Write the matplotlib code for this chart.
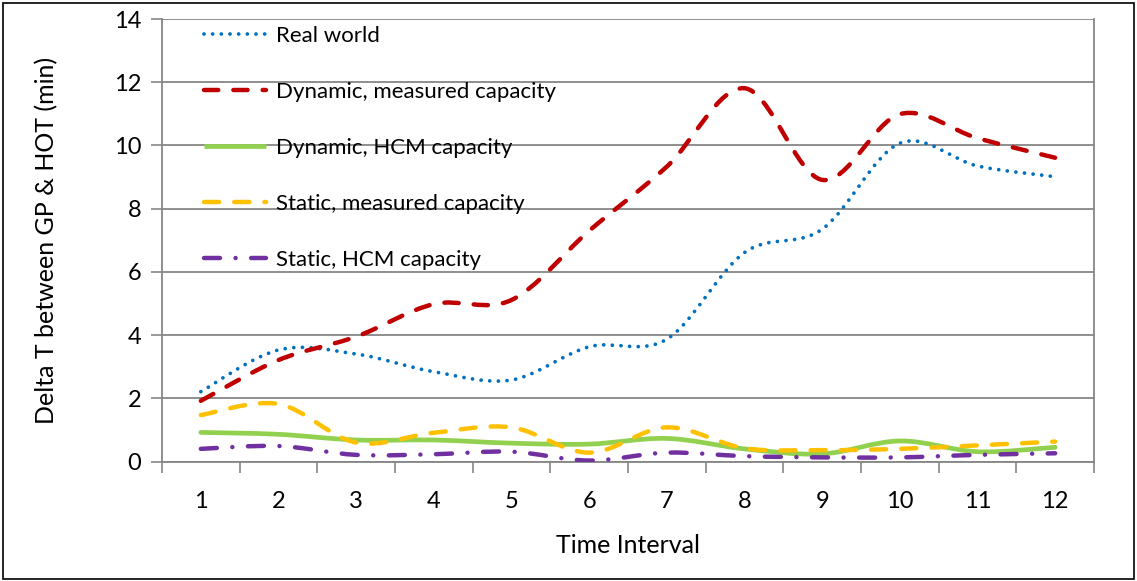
import matplotlib
matplotlib.use("Agg")
import matplotlib.pyplot as plt
from matplotlib.path import Path
from matplotlib.patches import PathPatch, Rectangle
from matplotlib.lines import Line2D
import numpy as np

intervals = [1, 2, 3, 4, 5, 6, 7, 8, 9, 10, 11, 12]
real_world = [2.21, 3.53, 3.40, 2.84, 2.58, 3.63, 3.87, 6.61, 7.35, 10.07, 9.35, 9.01]
dyn_measured = [1.92, 3.21, 3.95, 4.98, 5.11, 7.30, 9.33, 11.81, 8.91, 10.99, 10.23, 9.61]
dyn_hcm = [0.92, 0.86, 0.68, 0.68, 0.58, 0.55, 0.73, 0.40, 0.24, 0.65, 0.31, 0.45]
stat_measured = [1.47, 1.82, 0.60, 0.91, 1.08, 0.28, 1.08, 0.42, 0.36, 0.40, 0.51, 0.63]
stat_hcm = [0.40, 0.49, 0.21, 0.23, 0.31, 0.03, 0.28, 0.17, 0.13, 0.13, 0.21, 0.26]

labels = ["Real world", "Dynamic, measured capacity", "Dynamic, HCM capacity",
          "Static, measured capacity", "Static, HCM capacity"]
colors = ["#0070C0", "#C00000", "#92D050", "#FFC000", "#7030A0"]

FONT = ["Lato", "DejaVu Sans"]
plt.rcParams['font.family'] = FONT

fig = plt.figure(figsize=(11.37, 5.81), dpi=100)
ax = fig.add_axes([162/1137, 1 - 461.5/581, (1094-162)/1137, (461.5-19)/581])


def smooth_path(xs, ys):
    # Excel-style smoothed line: cubic Bezier segments through the data points
    pts = np.column_stack([xs, ys]).astype(float)
    n = len(pts)
    verts = [pts[0]]
    codes = [Path.MOVETO]
    for i in range(n - 1):
        p0 = pts[i - 1] if i > 0 else pts[i]
        p1 = pts[i]
        p2 = pts[i + 1]
        p3 = pts[i + 2] if i + 2 < n else pts[i + 1]
        c1 = p1 + (p2 - p0) / 6.0
        c2 = p2 - (p3 - p1) / 6.0
        verts += [c1, c2, p2]
        codes += [Path.CURVE4] * 3
    return Path(verts, codes)


series = [real_world, dyn_measured, dyn_hcm, stat_measured, stat_hcm]
lws = [2.7, 3.2, 3.4, 3.2, 3.2]
styles = [(0, (0.01, 2.3)), (0, (3.2, 3.4)), "solid", (0, (3.4, 3.4)),
          (0, (3.6, 3.5, 0.01, 3.5))]
caps = ["round", "round", "round", "round", "round"]
handles = []
for vals, c, lw, ls, cap, lab in zip(series, colors, lws, styles, caps, labels):
    patch = PathPatch(smooth_path(intervals, vals), facecolor="none", edgecolor=c,
                      lw=lw, linestyle=ls, capstyle=cap, joinstyle="round", zorder=3)
    ax.add_patch(patch)
    h = Line2D([], [], color=c, lw=lw, linestyle=ls, solid_capstyle="butt",
               dash_capstyle=cap, label=lab)
    handles.append(h)

ax.set_xlim(0.5, 12.5)
ax.set_ylim(0, 14)
ax.set_yticks(np.arange(0, 15, 2))
ax.set_xticks(intervals)
ax.set_xticks(np.arange(0.5, 13, 1), minor=True)
ax.tick_params(axis="x", which="major", length=0, pad=21, labelsize=17)
ax.tick_params(axis="x", which="minor", length=8, width=1.2, color="#868686")
ax.tick_params(axis="y", length=8, width=1.2, color="#868686", labelsize=17, pad=7)
ax.grid(axis="y", color="#868686", lw=1.3, zorder=1)
for s in ["left", "bottom", "right"]:
    ax.spines[s].set_color("#868686")
    ax.spines[s].set_linewidth(1.3)
ax.spines["top"].set_visible(False)
ax.set_xlabel("Time Interval", fontsize=18, labelpad=16)
ax.set_ylabel("Delta T between GP & HOT (min)", fontsize=18, labelpad=40)

leg = ax.legend(handles=handles, loc="upper left", bbox_to_anchor=(0.035, 1.005),
                frameon=False, fontsize=16, handlelength=2.8, handletextpad=0.45,
                labelspacing=1.62, borderaxespad=0)

fig.patches.append(Rectangle((0.003, 0.003), 0.994, 0.992, transform=fig.transFigure,
                             fill=False, edgecolor="black", lw=1.2))

fig.savefig("out.png", dpi=100)
